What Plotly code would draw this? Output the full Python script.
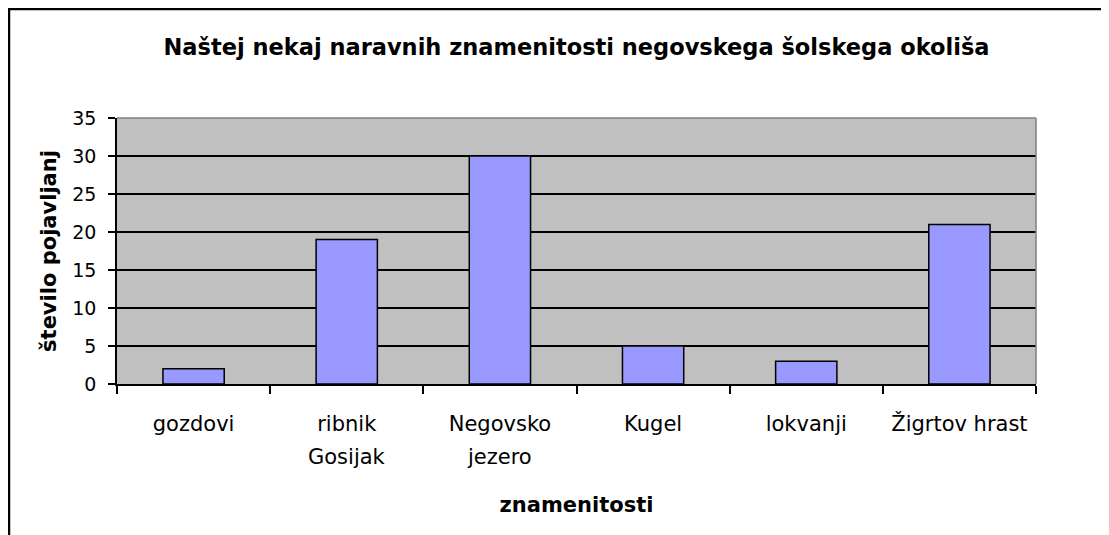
import plotly.graph_objects as go

categories = ["gozdovi", "ribnik Gosijak", "Negovsko jezero", "Kugel", "lokvanji", "Žigrtov hrast"]
label_line1 = ["gozdovi", "ribnik", "Negovsko", "Kugel", "lokvanji", "Žigrtov hrast"]
label_line2 = ["", "Gosijak", "jezero", "", "", ""]
values = [2, 19, 30, 5, 3, 21]
y_ticks = [0, 5, 10, 15, 20, 25, 30, 35]

title_text = "Naštej nekaj naravnih znamenitosti negovskega šolskega okoliša"
x_title = "znamenitosti"
y_title = "število pojavljanj"

FONT = "DejaVu Sans"
# the page body adds an 8px offset, so the figure is 8px smaller than the window
W, H = 1101, 527
ML, MR, MT, MB = 109, 73, 110, 151

fig = go.Figure()
fig.add_trace(go.Bar(
    x=categories, y=values,
    marker=dict(color="#9999FF", line=dict(color="black", width=1.5)),
    hoverinfo="x+y",
))

annotations = []
for c, t in zip(categories, label_line2):
    if t:
        annotations.append(dict(
            x=c, xref="x", y=0, yref="paper", yanchor="middle", yshift=-73,
            text=t, showarrow=False, font=dict(family=FONT, size=21, color="black"),
        ))

pw = W - ML - MR
ph = H - MT - MB
# outer frame (partially outside the canvas as in reference)
fx0 = (1 - ML) / pw
fx1 = (W + 10 - ML) / pw
fy1 = (H - MB - 1) / ph
fy0 = (H - MB - (H + 10)) / ph

shapes = [
    dict(type="rect", xref="paper", yref="paper", x0=fx0, x1=fx1, y0=fy0, y1=fy1,
         line=dict(color="black", width=2.5), layer="above"),
    dict(type="line", xref="paper", yref="paper", x0=0, x1=1, y0=1, y1=1,
         line=dict(color="#808080", width=1.5), layer="above"),
    dict(type="line", xref="paper", yref="paper", x0=1, x1=1, y0=0, y1=1,
         line=dict(color="#808080", width=1.5), layer="above"),
]

fig.update_layout(
    width=W, height=H,
    margin=dict(l=ML, r=MR, t=MT, b=MB, autoexpand=False),
    paper_bgcolor="white",
    plot_bgcolor="#C0C0C0",
    bargap=0.6,
    showlegend=False,
    font=dict(family=FONT, color="black"),
    title=dict(text="<b>" + title_text + "</b>", x=0.5, xref="paper", xanchor="center",
               y=1 - 39 / H, yref="container", yanchor="middle",
               font=dict(family=FONT, size=22.5, color="black")),
    xaxis=dict(
        type="category",
        tickmode="array", tickvals=categories, ticktext=label_line1,
        tickson="boundaries", ticks="outside", ticklen=8, tickwidth=1.5, tickcolor="black",
        tickfont=dict(family=FONT, size=21, color="black"),
        ticklabelstandoff=20,
        showline=True, linecolor="black", linewidth=1.5,
        showgrid=False, zeroline=False,
        title=dict(text="<b>" + x_title + "</b>", font=dict(family=FONT, size=21, color="black"),
                   standoff=62),
        automargin=False,
    ),
    yaxis=dict(
        range=[0, 35], tickmode="array", tickvals=y_ticks,
        ticks="outside", ticklen=7, tickwidth=1.5, tickcolor="black",
        tickfont=dict(family=FONT, size=19, color="black"),
        ticklabelstandoff=8,
        showline=True, linecolor="black", linewidth=1.5,
        showgrid=True, gridcolor="black", gridwidth=1.5,
        zeroline=False,
        title=dict(text="<b>" + y_title + "</b>", font=dict(family=FONT, size=21, color="black"),
                   standoff=10),
        automargin=False,
    ),
    annotations=annotations,
    shapes=shapes,
)

fig.write_html("out.html")
